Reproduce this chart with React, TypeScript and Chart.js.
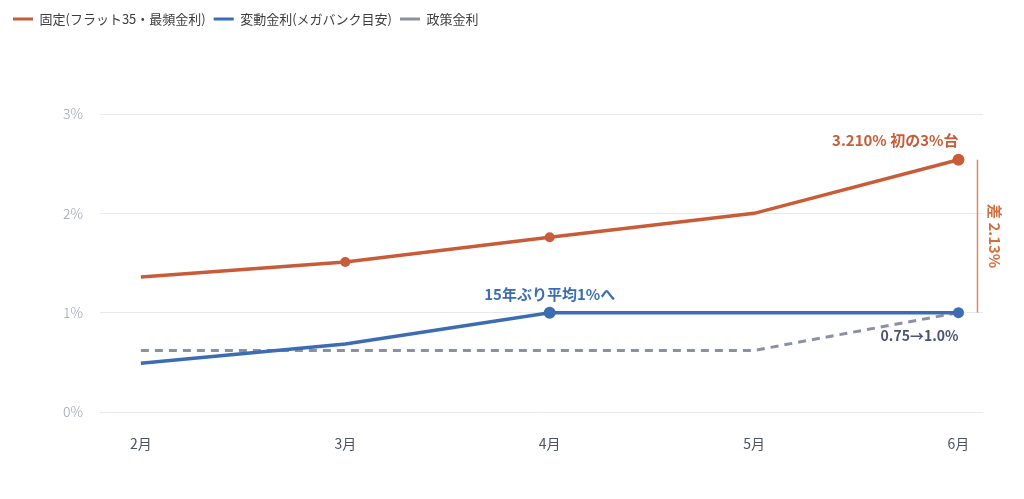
import React, { useEffect, useRef } from 'react';
import { Chart, registerables } from 'chart.js';

Chart.register(...registerables);

const months = ['2月', '3月', '4月', '5月', '6月'];
const fixedRate = [1.36, 1.51, 1.76, 2.0, 2.54];
const variableRate = [0.49, 0.685, 1.0, 1.0, 1.0];
const policyRate = [0.62, 0.62, 0.62, 0.62, 1.0];
const yTicks = [0, 1, 2, 3];
const seriesNames = ['固定(フラット35・最頻金利)', '変動金利(メガバンク目安)', '政策金利'];
const fixedNote = '3.210% 初の3%台';
const variableNote = '15年ぶり平均1%へ';
const variableNoteIndex = 2;
const policyNote = '0.75→1.0%';
const spreadNote = '差 2.13%';

const FONT = "'Noto Sans CJK JP', 'Noto Sans', sans-serif";
const C_FIXED = '#c85c38';
const C_VAR = '#3c6db2';
const C_POLICY = '#8b90a5';

export default function App() {
  const ref = useRef<HTMLCanvasElement>(null);

  useEffect(() => {
    document.body.style.margin = '0';
    const toXY = (arr: number[]) => arr.map((y, i) => ({ x: i, y }));

    const legendSpace = {
      id: 'legendSpace',
      beforeInit(chart: any) {
        const legend = chart.legend;
        const fit = legend.fit;
        legend.fit = function () {
          fit.call(this);
          this.height = 109.5;
        };
      },
    };

    const annotate = {
      id: 'annotate',
      afterDatasetsDraw(chart: any) {
        const ctx = chart.ctx;
        const last = months.length - 1;
        const fp = chart.getDatasetMeta(0).data[last];
        const vp = chart.getDatasetMeta(1).data[variableNoteIndex];
        const vl = chart.getDatasetMeta(1).data[last];
        const pl = chart.getDatasetMeta(2).data[last];
        ctx.save();
        ctx.font = `bold 15px ${FONT}`;
        ctx.textBaseline = 'middle';

        ctx.fillStyle = C_FIXED;
        ctx.textAlign = 'right';
        ctx.fillText(fixedNote, fp.x, fp.y - 19);

        ctx.fillStyle = C_VAR;
        ctx.textAlign = 'center';
        ctx.fillText(variableNote, vp.x, vp.y - 18);

        ctx.font = `bold 14px ${FONT}`;
        ctx.fillStyle = '#4a5470';
        ctx.textAlign = 'right';
        ctx.fillText(policyNote, pl.x, pl.y + 23);

        const bx = fp.x + 19;
        ctx.strokeStyle = '#e08b57';
        ctx.lineWidth = 1.5;
        ctx.beginPath();
        ctx.moveTo(bx, fp.y);
        ctx.lineTo(bx, vl.y);
        ctx.stroke();

        ctx.font = `bold 15px ${FONT}`;
        ctx.translate(bx + 17, (fp.y + vl.y) / 2);
        ctx.rotate(Math.PI / 2);
        ctx.fillStyle = '#d2703f';
        ctx.textAlign = 'center';
        ctx.fillText(spreadNote, 0, 0);
        ctx.restore();
      },
    };

    const chart = new Chart(ref.current as HTMLCanvasElement, {
      type: 'line',
      data: {
        datasets: [
          {
            label: seriesNames[0],
            data: toXY(fixedRate),
            borderColor: C_FIXED,
            backgroundColor: C_FIXED,
            borderWidth: 3.5,
            pointRadius: [0, 5, 5, 0, 6],
            pointBackgroundColor: C_FIXED,
            pointBorderWidth: 0,
            tension: 0,
          },
          {
            label: seriesNames[1],
            data: toXY(variableRate),
            borderColor: C_VAR,
            backgroundColor: C_VAR,
            borderWidth: 3.5,
            pointRadius: [0, 0, 6, 0, 5.5],
            pointBackgroundColor: C_VAR,
            pointBorderWidth: 0,
            tension: 0,
          },
          {
            label: seriesNames[2],
            data: toXY(policyRate),
            borderColor: C_POLICY,
            backgroundColor: C_POLICY,
            borderWidth: 3,
            borderDash: [8, 6],
            pointRadius: 0,
            tension: 0,
          },
        ],
      } as any,
      options: {
        animation: false,
        responsive: true,
        maintainAspectRatio: false,
        devicePixelRatio: 1,
        layout: { padding: { top: 4.5, left: 5, right: 41, bottom: 0 } },
        plugins: {
          tooltip: { enabled: false },
          legend: {
            position: 'top',
            align: 'start',
            labels: {
              boxWidth: 20,
              boxHeight: 3,
              padding: 8,
              color: '#3d3d3d',
              font: { family: FONT, size: 13 },
              generateLabels: (c: any) =>
                Chart.defaults.plugins.legend.labels.generateLabels(c).map((l: any) => ({
                  ...l,
                  fillStyle: l.strokeStyle,
                  strokeStyle: 'rgba(0,0,0,0)',
                  lineWidth: 0,
                  lineDash: [],
                })),
            },
          },
        },
        scales: {
          x: {
            type: 'linear',
            min: -0.2,
            max: 4.12,
            afterFit: (s: any) => {
              s.height = 87;
            },
            afterBuildTicks: (s: any) => {
              s.ticks = months.map((_, i) => ({ value: i }));
            },
            border: { display: false },
            grid: { display: false, drawTicks: false },
            ticks: {
              padding: 23,
              maxRotation: 0,
              autoSkip: false,
              color: '#4b5268',
              font: { family: FONT, size: 14 },
              callback: (v: any) => months[v] ?? '',
            },
          },
          y: {
            min: 0,
            max: 3,
            afterFit: (s: any) => {
              s.width = 95;
            },
            afterBuildTicks: (s: any) => {
              s.ticks = yTicks.map((v) => ({ value: v }));
            },
            border: { display: false },
            grid: { color: '#e8e8ef', lineWidth: 1, drawTicks: false },
            ticks: {
              padding: 17,
              color: '#9ca1b3',
              font: { family: FONT, size: 14, weight: 300 },
              callback: (v: any) => v + '%',
            },
          },
        },
      } as any,
      plugins: [legendSpace, annotate],
    });
    return () => chart.destroy();
  }, []);

  return (
    <div style={{ position: 'relative', width: '1024px', height: '499px' }}>
      <canvas ref={ref} />
    </div>
  );
}
